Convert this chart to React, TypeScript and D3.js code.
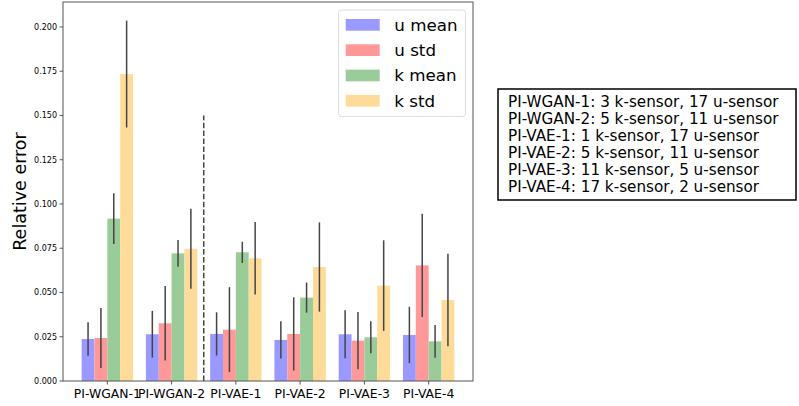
import React from "react";
import * as d3 from "d3";

const categories = ["PI-WGAN-1", "PI-WGAN-2", "PI-VAE-1", "PI-VAE-2", "PI-VAE-3", "PI-VAE-4"];
const seriesNames = ["u mean", "u std", "k mean", "k std"];
const uMean = [0.0237, 0.0264, 0.0266, 0.0232, 0.0264, 0.026];
const uMeanErr = [0.0095, 0.0132, 0.0122, 0.0105, 0.0135, 0.0159];
const uStd = [0.0243, 0.0326, 0.029, 0.0266, 0.0228, 0.0653];
const uStdErr = [0.017, 0.021, 0.024, 0.0207, 0.0162, 0.0292];
const kMean = [0.0917, 0.0721, 0.0727, 0.0471, 0.0247, 0.0224];
const kMeanErr = [0.0143, 0.0075, 0.006, 0.0085, 0.009, 0.0092];
const kStd = [0.1734, 0.0747, 0.0693, 0.0644, 0.0539, 0.0458];
const kStdErr = [0.0302, 0.0226, 0.0205, 0.0252, 0.0256, 0.0261];
const yTicks = [0, 0.025, 0.05, 0.075, 0.1, 0.125, 0.15, 0.175, 0.2];
const infoLines = [
  "PI-WGAN-1: 3 k-sensor, 17 u-sensor",
  "PI-WGAN-2: 5 k-sensor, 11 u-sensor",
  "PI-VAE-1: 1 k-sensor, 17 u-sensor",
  "PI-VAE-2: 5 k-sensor, 11 u-sensor",
  "PI-VAE-3: 11 k-sensor, 5 u-sensor",
  "PI-VAE-4: 17 k-sensor, 2 u-sensor",
];

const values = [uMean, uStd, kMean, kStd];
const errors = [uMeanErr, uStdErr, kMeanErr, kStdErr];
const colors = ["#9999ff", "#ff9999", "#99cc99", "#ffdb99"];

const font = "DejaVu Sans, sans-serif";

export default function App() {
  const W = 799, H = 406;
  const L = 63, R = 473, T = 2, B = 381;
  const x = d3.scaleLinear().domain([-0.69, 5.69]).range([L, R]);
  const y = d3.scaleLinear().domain([0, 0.2141]).range([B, T]);
  const bw = 0.2;
  const offsets = [-0.3, -0.1, 0.1, 0.3];

  return (
    <svg width={W} height={H} style={{ position: "absolute", left: 0, top: 0 }} fontFamily={font}>
      <rect x={0} y={0} width={W} height={H} fill="white" />
      {values.map((vals, s) =>
        vals.map((v, i) => {
          const cx = i + offsets[s];
          return (
            <rect
              key={`b${s}-${i}`}
              x={x(cx - bw / 2)}
              y={y(v)}
              width={x(cx + bw / 2) - x(cx - bw / 2)}
              height={y(0) - y(v)}
              fill={colors[s]}
            />
          );
        })
      )}
      {values.map((vals, s) =>
        vals.map((v, i) => {
          const cx = x(i + offsets[s]);
          const e = errors[s][i];
          return (
            <line key={`e${s}-${i}`} x1={cx} x2={cx} y1={y(v - e)} y2={y(v + e)} stroke="#444" strokeWidth={1.5} />
          );
        })
      )}
      <line x1={x(1.5)} x2={x(1.5)} y1={y(0)} y2={y(0.15)} stroke="#444" strokeWidth={1.5} strokeDasharray="5.5,2.4" />
      {/* spines */}
      <rect x={L} y={T} width={R - L} height={B - T} fill="none" stroke="#555" strokeWidth={1} />
      {yTicks.map((t) => (
        <g key={`yt${t}`}>
          <line x1={L - 3.5} x2={L} y1={y(t)} y2={y(t)} stroke="#333" strokeWidth={0.8} />
          <text x={L - 6} y={y(t)} dy="0.35em" textAnchor="end" fontSize={8} fill="#000">
            {t.toFixed(3)}
          </text>
        </g>
      ))}
      {categories.map((c, i) => (
        <g key={`xt${c}`}>
          <line x1={x(i)} x2={x(i)} y1={B} y2={B + 3.5} stroke="#333" strokeWidth={0.8} />
          <text x={x(i)} y={397.5} textAnchor="middle" fontSize={12.4} fill="#000">
            {c}
          </text>
        </g>
      ))}
      <text transform={`translate(26,${(T + B) / 2}) rotate(-90)`} textAnchor="middle" fontSize={17.5} fill="#000">
        Relative error
      </text>
      {/* legend */}
      <rect x={338.5} y={10} width={127} height={106.5} rx={3} fill="white" fillOpacity={0.8} stroke="#ddd" strokeWidth={1} />
      {seriesNames.map((n, i) => (
        <g key={`lg${n}`}>
          <rect x={345.7} y={19 + i * 25.3} width={34} height={11.7} fill={colors[i]} />
          <text x={394.3} y={24.8 + i * 25.3} dy="0.35em" fontSize={16.7} fill="#000">
            {n}
          </text>
        </g>
      ))}
      {/* info box */}
      <rect x={498} y={89} width={298} height={111} fill="white" stroke="#000" strokeWidth={1.5} />
      {infoLines.map((l, i) => (
        <text key={`il${i}`} x={508} y={101.7 + i * 17} dy="0.35em" fontSize={15.2} fill="#000">
          {l}
        </text>
      ))}
    </svg>
  );
}
